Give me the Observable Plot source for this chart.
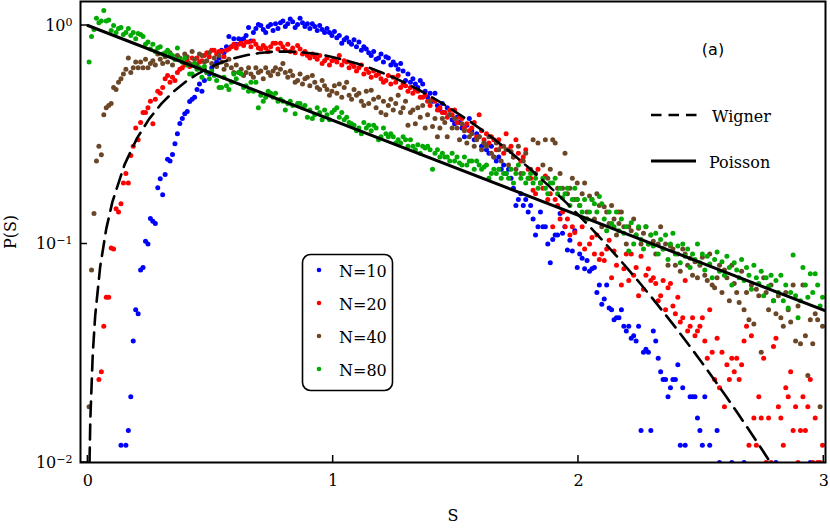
<!DOCTYPE html>
<html>
<head>
<meta charset="utf-8">
<script src="https://cdn.jsdelivr.net/npm/d3@7"></script>
<script src="https://cdn.jsdelivr.net/npm/@observablehq/plot@0.6"></script>
<style>
  html, body { margin: 0; padding: 0; background: #fff; }
  #chart { width: 830px; height: 528px; }
  #chart svg text { font-family: "DejaVu Serif", serif; font-size: 16px; fill: #000; }
  #chart svg text tspan.sup { font-size: 11px; }
</style>
</head>
<body>
<div id="chart"></div>
<script>
// ---- Data (P(S) histograms, bin width 0.01, bins start at S = 0) ----
const binWidth = 0.01;
const seriesNames = ["N=10", "N=20", "N=40", "N=80"];
const seriesColors = ["#0000ff", "#ff0000", "#6b4728", "#00aa00"];

const n10 = [
null,null,null,null,null,null,null,null,null,null,
null,null,null,0.012,null,0.012,0.014,0.020,0.036,0.050,
0.048,0.076,0.078,0.103,0.100,0.131,0.127,0.124,0.181,0.199,
0.168,0.208,0.244,0.240,0.257,0.288,0.32,0.356,0.375,0.395,
0.404,0.449,0.46,0.47,0.51,0.54,0.50,0.56,0.61,0.60,
0.64,0.66,0.68,0.71,0.77,0.75,0.80,0.89,0.80,0.87,
0.82,0.87,0.86,0.87,0.90,0.98,0.85,0.93,0.97,1.01,
1.00,0.96,0.93,0.99,1.01,0.95,1.02,0.97,1.03,1.05,
0.99,1.02,1.07,1.04,0.98,1.01,1.08,1.03,0.99,1.02,
0.97,1.02,0.99,0.95,1.00,0.96,0.93,0.97,0.93,0.90,
0.94,0.88,0.90,0.83,0.86,0.88,0.84,0.82,0.86,0.80,
0.84,0.77,0.80,0.78,0.75,0.73,0.76,0.70,0.71,0.74,
0.68,0.72,0.71,0.66,0.68,0.66,0.63,0.67,0.62,0.56,
0.60,0.55,0.57,0.54,0.52,0.56,0.54,0.50,0.47,0.49,
0.45,0.49,0.43,0.41,0.44,0.40,0.42,0.39,0.37,0.355,
0.38,0.36,0.34,0.31,0.35,0.375,0.33,0.30,0.32,0.31,
0.28,0.29,0.27,0.26,0.28,0.25,0.24,0.25,0.22,0.23,
0.21,0.22,0.20,0.18,0.15,0.16,0.17,0.15,0.16,0.14,
0.15,0.13,0.11,0.12,0.14,0.12,0.12,0.10,0.082,0.105,
0.11,0.11,0.138,0.112,0.12,0.094,0.104,0.093,0.115,0.078,
0.090,0.086,0.077,0.084,0.075,0.077,0.078,0.060,0.065,0.053,
0.056,0.065,0.051,0.050,0.045,0.046,0.046,0.050,0.042,0.040,
0.042,0.037,0.038,0.036,0.042,0.014,0.032,0.033,0.032,0.014,
0.040,0.036,0.030,0.026,0.024,0.024,0.020,0.022,0.024,0.024,
0.028,0.012,0.022,0.012,null,0.020,0.020,0.020,0.016,0.014,
0.012,0.020,null,0.012,null,null,0.014,0.010,null,null,
null,null,0.010,null,null,null,null,0.010,null,null,
null,null,null,null,null,null,null,null,null,null,
0.010,null,null,null,null,null,null,null,null,null,
null,null,null,null,0.010,null,null,null,null,null
];

const n20 = [
null,null,null,null,0.024,0.026,0.042,0.057,0.057,0.096,
0.095,0.145,0.140,0.153,0.19,0.21,0.19,0.254,0.28,0.34,
0.30,0.36,0.40,0.40,0.42,0.45,0.355,0.46,0.50,0.49,
0.52,0.57,0.59,0.55,0.58,0.56,0.61,0.63,0.64,0.66,
0.69,0.65,0.71,0.67,0.71,0.68,0.69,0.73,0.75,0.72,
0.77,0.77,0.74,0.76,0.76,0.72,0.77,0.78,0.80,0.82,
0.79,0.82,0.83,0.81,0.84,0.84,0.80,0.85,0.82,0.79,
0.78,0.81,0.79,0.76,0.80,0.83,0.83,0.78,0.83,0.80,
0.77,0.82,0.76,0.79,0.75,0.81,0.78,0.74,0.76,0.73,
0.71,0.74,0.72,0.70,0.73,0.67,0.69,0.71,0.66,0.69,
0.70,0.68,0.73,0.66,0.69,0.68,0.64,0.67,0.65,0.62,
0.64,0.66,0.60,0.63,0.61,0.58,0.62,0.59,0.60,0.57,
0.55,0.56,0.59,0.54,0.58,0.55,0.59,0.52,0.54,0.53,
0.50,0.52,0.49,0.51,0.50,0.47,0.47,0.48,0.45,0.43,
0.46,0.45,0.41,0.42,0.40,0.40,0.38,0.41,0.39,0.41,
0.36,0.38,0.375,0.34,0.355,0.33,0.34,0.36,0.31,0.39,
0.33,0.30,0.32,0.29,0.31,0.30,0.27,0.30,0.28,0.26,
0.32,0.27,0.28,0.25,0.30,0.26,0.24,0.25,0.27,0.22,
0.20,0.176,0.17,0.22,0.19,0.18,0.205,0.16,0.17,0.12,
0.16,0.15,0.13,0.14,0.12,0.13,0.11,0.12,0.113,0.16,
0.10,0.12,0.095,0.13,0.10,0.107,0.09,0.11,0.085,0.09,
0.084,0.095,0.104,0.07,0.093,0.08,0.14,0.065,0.077,0.09,
0.068,0.09,0.072,0.078,0.058,0.088,0.062,0.072,0.077,0.068,
0.07,0.066,0.055,0.058,0.068,0.05,0.063,0.066,0.052,0.048,
0.057,0.044,0.046,0.068,0.04,0.042,0.046,0.038,0.04,0.042,
0.046,0.036,0.03,0.05,0.032,0.024,0.037,0.022,0.032,0.018,
0.028,0.024,0.03,0.026,0.030,0.024,0.028,0.036,0.042,0.012,
0.038,0.016,0.012,0.02,0.016,0.030,0.01,0.016,0.01,0.034,
0.037,0.018,0.016,0.012,0.022,0.02,0.026,0.014,0.018,0.01,
0.014,0.020,0.014,0.018,0.024,0.01,0.016,0.01,0.01,0.012
];

const n40 = [
0.018,0.076,0.138,0.24,0.28,0.256,0.39,0.42,0.43,0.44,
0.52,0.51,0.55,0.57,0.60,0.63,0.71,0.61,0.64,0.68,
0.64,0.68,0.64,0.70,0.64,0.67,0.69,0.66,0.74,0.70,
0.67,0.72,0.68,0.75,0.66,0.70,0.73,0.71,0.68,0.74,
0.72,0.67,0.76,0.70,0.66,0.74,0.73,0.68,0.69,0.75,
0.67,0.71,0.65,0.73,0.68,0.63,0.66,0.70,0.64,0.61,
0.66,0.61,0.63,0.59,0.61,0.64,0.60,0.58,0.64,0.61,
0.62,0.57,0.64,0.61,0.59,0.62,0.64,0.60,0.63,0.67,
0.61,0.58,0.62,0.59,0.55,0.56,0.60,0.54,0.57,0.58,
0.53,0.59,0.55,0.52,0.51,0.56,0.53,0.51,0.48,0.50,
0.53,0.49,0.54,0.47,0.52,0.55,0.48,0.46,0.51,0.48,
0.49,0.45,0.43,0.50,0.44,0.505,0.46,0.42,0.47,0.40,
0.45,0.39,0.43,0.46,0.41,0.44,0.48,0.40,0.42,0.45,
0.35,0.40,0.41,0.355,0.42,0.38,0.43,0.34,0.39,0.45,
0.345,0.375,0.31,0.34,0.375,0.36,0.31,0.39,0.34,0.375,
0.34,0.30,0.355,0.33,0.29,0.31,0.32,0.28,0.30,0.31,
0.27,0.29,0.28,0.31,0.26,0.25,0.29,0.27,0.24,0.28,
0.27,0.23,0.265,0.25,0.22,0.28,0.21,0.24,0.26,0.20,
0.22,0.30,0.21,0.29,0.19,0.23,0.30,0.20,0.22,0.30,
0.29,0.18,0.21,0.18,0.26,0.17,0.18,0.20,0.16,0.19,
0.15,0.17,0.19,0.14,0.166,0.16,0.13,0.17,0.15,0.12,
0.148,0.14,0.124,0.15,0.13,0.11,0.124,0.14,0.12,0.10,
0.12,0.115,0.13,0.11,0.118,0.10,0.112,0.12,0.10,0.11,
0.103,0.09,0.10,0.12,0.095,0.10,0.08,0.098,0.095,0.08,
0.09,0.075,0.095,0.09,0.08,0.086,0.072,0.083,0.07,0.08,
0.087,0.072,0.068,0.09,0.065,0.063,0.07,0.08,0.06,0.076,
0.07,0.055,0.08,0.066,0.06,0.054,0.075,0.05,0.06,0.045,
0.065,0.043,0.062,0.058,0.032,0.07,0.06,0.05,0.065,0.055,
0.048,0.058,0.046,0.042,0.06,0.05,0.044,0.065,0.036,0.052,
0.035,0.065,0.038,0.025,0.045,0.035,0.048,0.045,0.018,0.042
];

const n80 = [
0.68,0.89,0.96,1.08,1.03,1.05,1.17,1.05,1.06,0.95,
1.00,0.93,0.97,0.98,0.91,0.93,0.97,0.90,0.93,0.87,
0.92,0.91,0.89,0.82,0.84,0.78,0.82,0.76,0.79,0.80,
0.74,0.75,0.77,0.74,0.73,0.70,0.79,0.70,0.68,0.71,
0.66,0.60,0.60,0.67,0.63,0.64,0.58,0.65,0.61,0.57,
0.62,0.59,0.56,0.52,0.52,0.58,0.53,0.51,0.55,0.60,
0.57,0.61,0.60,0.52,0.53,0.50,0.55,0.50,0.55,0.42,
0.48,0.45,0.47,0.50,0.49,0.47,0.49,0.45,0.46,0.45,
0.41,0.44,0.45,0.43,0.395,0.44,0.44,0.42,0.43,0.38,
0.41,0.375,0.39,0.42,0.40,0.37,0.41,0.39,0.37,0.40,
0.41,0.42,0.38,0.40,0.37,0.38,0.36,0.355,0.35,0.33,
0.34,0.32,0.36,0.34,0.35,0.33,0.35,0.34,0.30,0.31,
0.34,0.32,0.31,0.32,0.31,0.29,0.30,0.29,0.31,0.30,
0.28,0.30,0.28,0.27,0.285,0.26,0.28,0.275,0.28,0.27,
0.22,0.26,0.27,0.25,0.26,0.25,0.25,0.24,0.26,0.24,
0.25,0.235,0.23,0.25,0.23,0.24,0.24,0.22,0.24,0.23,
0.22,0.225,0.23,0.20,0.21,0.22,0.21,0.22,0.20,0.21,
0.21,0.20,0.22,0.19,0.21,0.23,0.20,0.21,0.19,0.20,
0.21,0.19,0.20,0.18,0.19,0.20,0.18,0.17,0.19,0.19,
0.20,0.17,0.18,0.163,0.17,0.18,0.15,0.16,0.18,0.16,
0.15,0.14,0.16,0.13,0.14,0.16,0.153,0.14,0.165,0.153,
0.13,0.115,0.14,0.124,0.12,0.14,0.115,0.13,0.112,0.12,
0.093,0.125,0.10,0.11,0.12,0.105,0.095,0.12,0.10,0.11,
0.098,0.112,0.09,0.105,0.095,0.11,0.085,0.10,0.112,0.09,
0.098,0.082,0.10,0.088,0.095,0.078,0.09,0.085,0.10,0.082,
0.09,0.076,0.088,0.081,0.07,0.085,0.092,0.075,0.083,0.072,
0.088,0.078,0.065,0.082,0.076,0.07,0.085,0.068,0.078,0.072,
0.062,0.08,0.07,0.066,0.075,0.058,0.07,0.064,0.072,0.055,
0.068,0.06,0.072,0.055,0.065,0.051,0.06,0.089,0.058,0.046,
0.055,0.078,0.065,0.057,0.073,0.06,0.073,0.065,0.052,0.057
];

// Reference curves
const wignerS = [0.005,0.01,0.02,0.03,0.05,0.075,0.1,0.15,0.2,0.25,0.3,0.35,0.4,0.45,0.5,0.55,0.6,0.65,0.7,0.75,0.8,0.85,0.9,0.95,1.0,1.05,1.1,1.15,1.2,1.25,1.3,1.35,1.4,1.45,1.5,1.55,1.6,1.65,1.7,1.75,1.8,1.85,1.9,1.95,2.0,2.05,2.1,2.15,2.2,2.25,2.3,2.35,2.4,2.45,2.5,2.55,2.6,2.65,2.7,2.75,2.8,2.85];
const wignerP = [0.00785,0.0157,0.0314,0.0471,0.0784,0.1173,0.1559,0.2315,0.3044,0.3739,0.4391,0.4994,0.5541,0.6029,0.6453,0.6813,0.7103,0.7327,0.7485,0.7575,0.7601,0.7570,0.7480,0.7373,0.7161,0.6939,0.6690,0.6393,0.6083,0.5755,0.5416,0.5068,0.4713,0.4369,0.4016,0.3689,0.3365,0.3055,0.2759,0.2481,0.2220,0.1977,0.1752,0.1546,0.1358,0.1187,0.1033,0.0895,0.0772,0.0663,0.0567,0.0482,0.0409,0.0345,0.0290,0.02425,0.0202,0.01675,0.01383,0.01137,0.00931,0.00759];
const poissonS = [0, 3.01];
const poissonP = [1, 0.0493];

const xTicks = [0, 1, 2, 3];
const yTicks = [0.01, 0.1, 1];
const yTickExponents = ["\u22122", "\u22121", "0"];

// ---- Build tables ----
const seriesValues = [n10, n20, n40, n80];
const points = [];
seriesValues.forEach((vals, k) => {
  vals.forEach((p, i) => {
    if (p != null) points.push({s: (i + 0.5) * binWidth, p, n: seriesNames[k]});
  });
});
const wigner = wignerS.map((s, i) => ({s, p: wignerP[i]}));
const poisson = poissonS.map((s, i) => ({s, p: poissonP[i]}));

const chart = Plot.plot({
  width: 830,
  height: 528,
  marginLeft: 80,
  marginRight: 5,
  marginTop: 1,
  marginBottom: 66,
  style: {background: "#fff", color: "#000"},
  x: {
    domain: [-0.03, 3.007],
    ticks: xTicks,
    tickSize: 0,
    tickPadding: 12,
    tickFormat: d => String(d),
    label: "S",
    labelAnchor: "center",
    labelOffset: 58,
    labelArrow: "none"
  },
  y: {
    type: "log",
    domain: [0.01, 1.288],
    ticks: yTicks,
    tickSize: 0,
    tickPadding: 8,
    tickFormat: d => "10^" + (yTickExponents[yTicks.indexOf(d)] ?? ""),
    label: "P(S)",
    labelAnchor: "center",
    labelOffset: 76,
    labelArrow: "none"
  },
  color: {domain: seriesNames, range: seriesColors},
  marks: [
    Plot.dot(points, {x: "s", y: "p", fill: "n", r: 2.5, stroke: null, clip: true}),
    Plot.line(wigner, {x: "s", y: "p", stroke: "#000", strokeWidth: 2.6, strokeDasharray: "15,8", clip: true}),
    Plot.line(poisson, {x: "s", y: "p", stroke: "#000", strokeWidth: 3, clip: true}),
    Plot.frame({stroke: "#000", strokeWidth: 2})
  ]
});

document.getElementById("chart").appendChild(chart);

const svg = d3.select(chart);

// ---- Superscript exponents on the y tick labels ----
svg.selectAll("text").each(function() {
  const t = this.textContent;
  if (/^10\^/.test(t)) {
    const exp = t.slice(3);
    const sel = d3.select(this);
    sel.text(null);
    sel.append("tspan").text("10");
    sel.append("tspan").attr("class", "sup").attr("dy", "-0.45em").text(exp);
  }
});

// ---- Inward ticks via the plot's own scales ----
const xs = chart.scale("x");
const ys = chart.scale("y");
const bottom = 528 - 66, left = 80;
const tickG = svg.append("g").attr("stroke", "#000").attr("stroke-width", 1.5);
xTicks.forEach(v => {
  const px = xs.apply(v);
  tickG.append("line").attr("x1", px).attr("x2", px).attr("y1", bottom).attr("y2", bottom - 7);
});
yTicks.forEach(v => {
  const py = ys.apply(v);
  tickG.append("line").attr("x1", left).attr("x2", left + 7).attr("y1", py).attr("y2", py);
});

// ---- Legends ----
const lg = svg.append("g").attr("text-anchor", "start");
lg.append("text").attr("x", 713).attr("y", 49).attr("text-anchor", "middle").attr("dominant-baseline", "central")
  .style("font-family", "'DejaVu Sans', sans-serif").style("font-size", "16px").text("(a)");
lg.append("line").attr("x1", 651).attr("x2", 697).attr("y1", 115).attr("y2", 115)
  .attr("stroke", "#000").attr("stroke-width", 2.6).attr("stroke-dasharray", "10.5,7");
lg.append("text").attr("x", 712).attr("y", 116).attr("dominant-baseline", "central").text("Wigner");
lg.append("line").attr("x1", 651).attr("x2", 696).attr("y1", 161).attr("y2", 161)
  .attr("stroke", "#000").attr("stroke-width", 2.8);
lg.append("text").attr("x", 709).attr("y", 162).attr("dominant-baseline", "central").text("Poisson");

const box = svg.append("g").attr("text-anchor", "start");
box.append("rect").attr("x", 302.5).attr("y", 254.5).attr("width", 90).attr("height", 136).attr("rx", 8)
  .attr("fill", "#fff").attr("stroke", "#000").attr("stroke-width", 1.6);
seriesNames.forEach((name, k) => {
  const cy = 270 + k * 33;
  box.append("circle").attr("cx", 319).attr("cy", cy).attr("r", 2.3).attr("fill", seriesColors[k]);
  box.append("text").attr("x", 339).attr("y", cy + 1).attr("dominant-baseline", "central").text(name);
});
</script>
</body>
</html>
